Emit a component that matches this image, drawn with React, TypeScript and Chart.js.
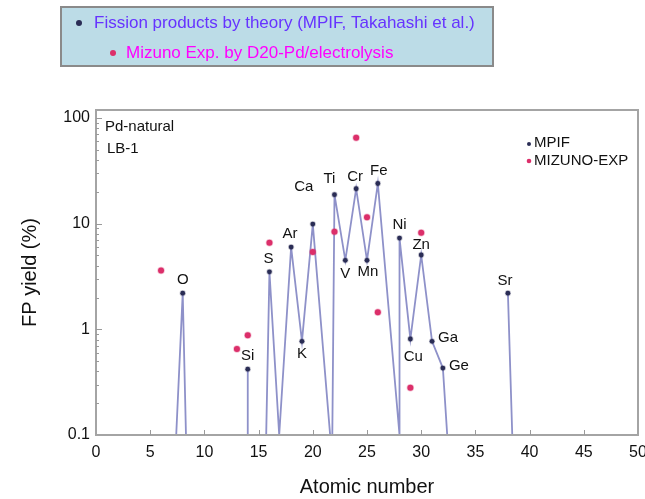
import React, { useEffect, useRef } from 'react';
import { Chart, registerables } from 'chart.js';

Chart.register(...registerables);

const FONT = '"Liberation Sans", Arial, Helvetica, sans-serif';

// Theory (MPIF) fission products
const elements = ['O', 'Si', 'S', 'Ar', 'K', 'Ca', 'Ti', 'V', 'Cr', 'Mn', 'Fe', 'Ni', 'Cu', 'Zn', 'Ga', 'Ge', 'Sr'];
const atomicNumbers = [8, 14, 16, 18, 19, 20, 22, 23, 24, 25, 26, 28, 29, 30, 31, 32, 38];
const mpifYield = [2.2, 0.42, 3.5, 6.0, 0.77, 9.9, 18.8, 4.5, 21.4, 4.5, 24, 7.3, 0.81, 5.05, 0.77, 0.43, 2.2];

// Mizuno experiment
const mizunoZ = [6, 13, 14, 16, 20, 22, 24, 25, 26, 29, 30];
const mizunoYield = [3.6, 0.65, 0.88, 6.6, 5.4, 8.4, 65, 11.5, 1.45, 0.28, 8.2];

// MPIF connecting trace (drops to the axis floor; null = break)
const traceZ = [7.4, 8, 8.3, 11, 14, 14, 15, 15.7, 16, 16.9, 18, 19, 20, 21.6, 21.7, 21.8, 22, 23, 24, 25, 26, 28, 28, 29, 30, 31, 32, 32.4, 35, 38, 38.4];
const traceYield = [0.1, 2.2, 0.1, null, 0.1, 0.42, null, 0.1, 3.5, 0.1, 6.0, 0.77, 9.9, 0.1, null, 0.1, 18.8, 4.5, 21.4, 4.5, 24, 0.1, 7.3, 0.81, 5.05, 0.77, 0.43, 0.1, null, 2.2, 0.1];

const xTicksStep = 5;
const yLabelValues = [0.1, 1, 10, 100];

// label placement for element names: [dx, dy, align]
const labelPlacement: [number, number, CanvasTextAlign][] = [
  [0, -13, 'center'], [0, -13, 'center'], [-1, -13, 'center'], [-1, -13, 'center'], [0, 13, 'center'],
  [-9, -37, 'center'], [-5, -16, 'center'], [0, 14, 'center'], [-1, -12, 'center'], [1, 12, 'center'],
  [1, -13, 'center'], [0, -13, 'center'], [3, 18, 'center'], [0, -10, 'center'], [6, -3, 'left'],
  [6, -2, 'left'], [-3, -12, 'center'],
];

const MPIF_COLOR = '#2a2d55';
const MIZUNO_COLOR = '#dc2f6a';
const LINE_COLOR = '#8e91c9';

export default function App() {
  const ref = useRef<HTMLCanvasElement>(null);

  useEffect(() => {
    const canvas = ref.current!;
    const decor = {
      id: 'decor',
      beforeDraw(chart: any) {
        const ctx = chart.ctx;
        ctx.save();
        ctx.fillStyle = '#ffffff';
        ctx.fillRect(0, 0, chart.width, chart.height);
        ctx.restore();
      },
      afterDatasetsDraw(chart: any) {
        const ctx = chart.ctx;
        const meta = chart.getDatasetMeta(0);
        ctx.save();
        ctx.font = `15px ${FONT}`;
        ctx.fillStyle = '#111';
        ctx.textBaseline = 'middle';
        meta.data.forEach((pt: any, i: number) => {
          const [dx, dy, align] = labelPlacement[i];
          ctx.textAlign = align;
          ctx.fillText(elements[i], pt.x + dx, pt.y + dy);
        });
        ctx.restore();
      },
      afterDraw(chart: any) {
        const ctx = chart.ctx;
        const a = chart.chartArea;
        const xs = chart.scales.x;
        const ys = chart.scales.y;
        ctx.save();
        // frame
        ctx.strokeStyle = '#a4a4a4';
        ctx.lineWidth = 2;
        ctx.strokeRect(a.left, a.top, a.right - a.left, a.bottom - a.top);
        // y ticks (inside)
        ctx.strokeStyle = '#9a9a9a';
        ctx.lineWidth = 1;
        ys.ticks.forEach((t: any) => {
          const v = t.value;
          const e = Math.floor(Math.log10(v) + 1e-9);
          const sig = v / Math.pow(10, e);
          if (Math.abs(sig - Math.round(sig)) > 1e-6) return;
          const y = Math.round(ys.getPixelForValue(v)) + 0.5;
          if (y <= a.top + 1 || y >= a.bottom - 1) return;
          const len = Math.round(sig) === 1 ? 6 : 3;
          ctx.beginPath();
          ctx.moveTo(a.left, y);
          ctx.lineTo(a.left + len, y);
          ctx.stroke();
        });
        // x ticks (inside)
        xs.ticks.forEach((t: any) => {
          const x = Math.round(xs.getPixelForValue(t.value)) + 0.5;
          if (x <= a.left + 1 || x >= a.right - 1) return;
          ctx.beginPath();
          ctx.moveTo(x, a.bottom);
          ctx.lineTo(x, a.bottom - 5);
          ctx.stroke();
        });
        // in-plot texts
        ctx.fillStyle = '#111';
        ctx.font = `15px ${FONT}`;
        ctx.textAlign = 'left';
        ctx.textBaseline = 'middle';
        ctx.fillText('Pd-natural', a.left + 9, a.top + 17);
        ctx.fillText('LB-1', a.left + 11, a.top + 39);
        // in-plot legend
        const lx = a.right - 104;
        ctx.fillText('MPIF', lx, a.top + 33);
        ctx.fillText('MIZUNO-EXP', lx, a.top + 51);
        ctx.fillStyle = MPIF_COLOR;
        ctx.beginPath();
        ctx.arc(lx - 5, a.top + 34, 2, 0, Math.PI * 2);
        ctx.fill();
        ctx.fillStyle = MIZUNO_COLOR;
        ctx.beginPath();
        ctx.arc(lx - 5, a.top + 51, 2.3, 0, Math.PI * 2);
        ctx.fill();
        // top legend box
        ctx.fillStyle = '#bcdce7';
        ctx.fillRect(61, 7, 432, 59);
        ctx.strokeStyle = '#8a8a8a';
        ctx.lineWidth = 2;
        ctx.strokeRect(61, 7, 432, 59);
        ctx.font = `17px ${FONT}`;
        ctx.fillStyle = '#6633ff';
        ctx.fillText('Fission products by theory (MPIF, Takahashi et al.)', 94, 23);
        ctx.fillStyle = '#ff00ff';
        ctx.fillText('Mizuno Exp. by D20-Pd/electrolysis', 126, 53);
        ctx.fillStyle = MPIF_COLOR;
        ctx.beginPath();
        ctx.arc(79, 23, 3, 0, Math.PI * 2);
        ctx.fill();
        ctx.fillStyle = MIZUNO_COLOR;
        ctx.beginPath();
        ctx.arc(113, 53, 3, 0, Math.PI * 2);
        ctx.fill();
        ctx.restore();
      },
    };

    const chart = new Chart(canvas, {
      type: 'scatter',
      data: {
        datasets: [
          {
            label: 'MPIF',
            data: atomicNumbers.map((z, i) => ({ x: z, y: mpifYield[i] })),
            pointRadius: 2.4,
            pointBackgroundColor: MPIF_COLOR,
            pointBorderColor: 'rgba(42,45,85,0.25)',
            pointBorderWidth: 1.5,
            showLine: false,
          },
          {
            label: 'MIZUNO-EXP',
            data: mizunoZ.map((z, i) => ({ x: z, y: mizunoYield[i] })),
            pointRadius: 3,
            pointBackgroundColor: MIZUNO_COLOR,
            pointBorderColor: 'rgba(220,47,106,0.3)',
            pointBorderWidth: 1.5,
            showLine: false,
          },
          {
            label: 'trace',
            data: traceZ.map((z, i) => ({ x: z, y: traceYield[i] as any })),
            showLine: true,
            spanGaps: false,
            pointRadius: 0,
            borderColor: LINE_COLOR,
            borderWidth: 1.8,
          } as any,
        ],
      },
      options: {
        animation: false,
        responsive: false,
        devicePixelRatio: 1,
        layout: { padding: { left: 0, right: 7, top: 110, bottom: 0 } },
        plugins: { legend: { display: false }, tooltip: { enabled: false } },
        events: [],
        scales: {
          x: {
            type: 'linear',
            min: 0,
            max: 50,
            ticks: { stepSize: xTicksStep, autoSkip: false, maxRotation: 0, padding: 8, color: '#111', font: { size: 16, family: FONT } },
            grid: { display: false, drawTicks: false },
            border: { display: false },
            title: { display: true, text: 'Atomic number', color: '#111', font: { size: 20, family: FONT }, padding: { top: 0, bottom: 0 } },
            afterFit(s: any) {
              s.height = 64;
              s.paddingLeft = 0;
              s.paddingRight = 0;
            },
          },
          y: {
            type: 'logarithmic',
            min: 0.1,
            max: 119,
            ticks: {
              autoSkip: false,
              padding: 6,
              color: '#111',
              font: { size: 16, family: FONT },
              callback: (v: any) => {
                const n = Number(v);
                const hit = yLabelValues.find((lv) => Math.abs(lv - n) < lv * 1e-6);
                return hit !== undefined ? String(hit) : '';
              },
            },
            grid: { display: false, drawTicks: false },
            border: { display: false },
            title: { display: true, text: 'FP yield (%)', color: '#111', font: { size: 20, family: FONT }, padding: { top: 18, bottom: 0 } },
            afterFit(s: any) {
              s.width = 96;
              s.paddingTop = 0;
              s.paddingBottom = 0;
            },
          },
        },
      } as any,
      plugins: [decor],
    });
    return () => chart.destroy();
  }, []);

  return (
    <div style={{ position: 'absolute', left: 0, top: 0, width: 645, height: 499, background: '#fff' }}>
      <canvas ref={ref} width={645} height={499} style={{ display: 'block', width: 645, height: 499 }} />
    </div>
  );
}
